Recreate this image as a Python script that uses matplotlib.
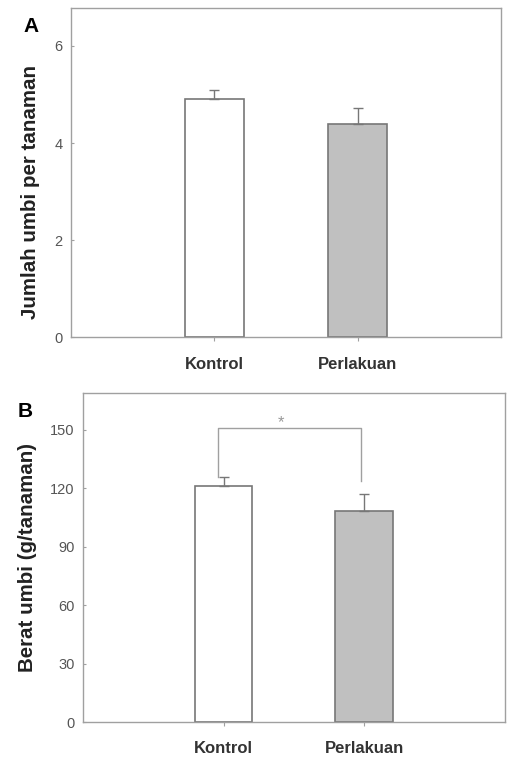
import numpy as np
import matplotlib.pyplot as plt

plt.rcParams['font.family'] = ['Liberation Sans', 'DejaVu Sans']

# data
groups = ['Kontrol', 'Perlakuan']
jumlah_mean = [4.9, 4.4]
jumlah_err = [0.2, 0.33]
berat_mean = [121, 108.5]
berat_err = [5, 8.5]
bar_colors = ['white', '#c0c0c0']

edge = '#777777'
spine = '#a0a0a0'
tick_col = '#555555'

fig = plt.figure(figsize=(5.13, 7.63), dpi=100)
ax1 = fig.add_axes([0.138, 0.558, 0.839, 0.4315])
ax2 = fig.add_axes([0.162, 0.0537, 0.822, 0.4313])

x = np.array([1, 2])


def draw_panel(ax, means, errs, ylim, yticks, ylabel, label_xy):
    ax.bar(x, means, width=0.41, color=bar_colors, edgecolor=edge, linewidth=1.2, zorder=2)
    ax.errorbar(x, means, yerr=[[0, 0], errs], fmt='none', ecolor=edge,
                elinewidth=1.0, capsize=3.5, capthick=1.0, zorder=3)
    ax.set_xlim(0, 3)
    ax.set_ylim(*ylim)
    ax.set_yticks(yticks)
    ax.set_xticks(x)
    ax.set_xticklabels(groups, fontsize=12, fontweight='bold', color='#333333')
    ax.tick_params(axis='y', direction='in', length=2, labelsize=10.5,
                   labelcolor=tick_col, color=spine, pad=6)
    ax.tick_params(axis='x', direction='out', length=3, color=spine, pad=11)
    for s in ax.spines.values():
        s.set_color(spine)
        s.set_linewidth(1.0)
    ax.set_ylabel(ylabel, fontsize=14.8, fontweight='bold', color='#222222')
    ax.yaxis.set_label_coords(*label_xy)


draw_panel(ax1, jumlah_mean, jumlah_err, (0, 6.78), [0, 2, 4, 6],
           'Jumlah umbi per tanaman', (-0.072, 0.44))
draw_panel(ax2, berat_mean, berat_err, (0, 169), [0, 30, 60, 90, 120, 150],
           'Berat umbi (g/tanaman)', (-0.109, 0.5))

# significance bracket
br_x = [0.96, 0.96, 1.98, 1.98]
br_y = [126, 151, 151, 124]
ax2.plot(br_x, br_y, color='#a0a0a0', linewidth=1.0, zorder=1)
ax2.text(1.41, 154, '*', ha='center', va='center', fontsize=12, color='#999999')

fig.text(0.045, 0.965, 'A', fontsize=15, fontweight='bold', ha='left', va='center')
fig.text(0.035, 0.461, 'B', fontsize=15, fontweight='bold', ha='left', va='center')

fig.savefig('out.png', dpi=100)
